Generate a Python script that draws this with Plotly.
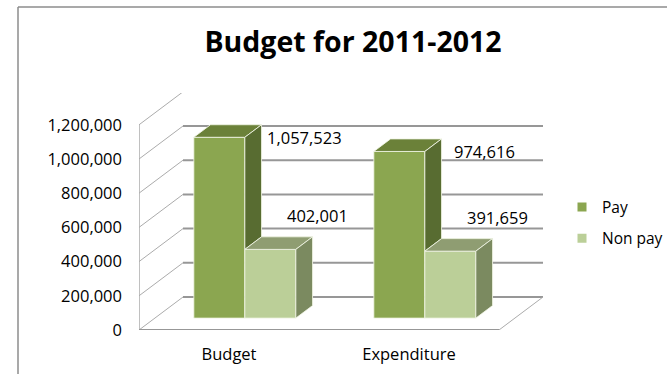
import plotly.graph_objects as go

# ---- data -------------------------------------------------------------
categories = ["Budget", "Expenditure"]
series_names = ["Pay", "Non pay"]
pay = [1057523, 974616]
non_pay = [402001, 391659]
y_ticks = [0, 200000, 400000, 600000, 800000, 1000000, 1200000]
y_tick_labels = ["0", "200,000", "400,000", "600,000", "800,000", "1,000,000", "1,200,000"]

# ---- geometry / style -------------------------------------------------
W, H = 667, 374
M_L, M_R, M_T, M_B = 139, 124, 93, 44
PLOT_W = W - M_L - M_R
PLOT_H = H - M_T - M_B
PX_PER_CAT = 180.0          # px per category slot on the front plane
PX_PER_VAL = 171e-6         # px per value unit
X_MAX = PLOT_W / PX_PER_CAT
Y_MAX = PLOT_H / PX_PER_VAL
DX = 44 / PX_PER_CAT        # depth of the box, horizontal component
DY = 33 / PX_PER_VAL        # depth of the box, vertical component
F0, F1 = 0.36, 0.74         # front/back depth fraction occupied by the columns
BW = 51 / PX_PER_CAT        # column width

FONT = "Open Sans"
colors = {
    "Pay": dict(front="#8BA650", top="#6B8139", side="#586C31"),
    "Non pay": dict(front="#BBCF98", top="#8F9D72", side="#7B8A60"),
}
EDGE = "rgba(240,245,228,0.85)"
GRID = "#979797"
WALL = "#ABABAB"

n_cat = len(categories)
sx, sy = F0 * DX, F0 * DY
ddx, ddy = (F1 - F0) * DX, (F1 - F0) * DY

fig = go.Figure()


def px_to_paper_x(px):
    return (px - M_L) / PLOT_W


def px_to_paper_y(py):
    return (H - M_B - py) / PLOT_H


# ---- box: back-wall gridlines, side wall, floor (behind the columns) ----
shapes = []
for t in y_ticks:
    shapes.append(dict(type="line", xref="x", yref="y", layer="below",
                       x0=DX, y0=t + DY, x1=n_cat + DX, y1=t + DY,
                       line=dict(color=GRID, width=2)))
    shapes.append(dict(type="line", xref="x", yref="y", layer="below",
                       x0=0, y0=t, x1=DX, y1=t + DY,
                       line=dict(color=WALL, width=1)))
shapes.append(dict(type="line", xref="x", yref="y", layer="below",
                   x0=0, y0=0, x1=0, y1=y_ticks[-1],
                   line=dict(color=WALL, width=1.5)))
shapes.append(dict(type="line", xref="x", yref="y", layer="below",
                   x0=0, y0=0, x1=n_cat, y1=0,
                   line=dict(color=GRID, width=2)))
shapes.append(dict(type="line", xref="x", yref="y", layer="below",
                   x0=n_cat, y0=0, x1=n_cat + DX, y1=DY,
                   line=dict(color=WALL, width=1)))

# chart-area border (top and left edges fall inside the page)
shapes.append(dict(type="line", xref="paper", yref="paper", layer="below",
                   x0=px_to_paper_x(18), y0=px_to_paper_y(7),
                   x1=px_to_paper_x(W), y1=px_to_paper_y(7),
                   line=dict(color="#8C8C8C", width=1.5)))
shapes.append(dict(type="line", xref="paper", yref="paper", layer="below",
                   x0=px_to_paper_x(18), y0=px_to_paper_y(7),
                   x1=px_to_paper_x(18), y1=px_to_paper_y(H),
                   line=dict(color="#8C8C8C", width=1.5)))

# ---- columns: front faces as bars --------------------------------------
series = [("Pay", pay, -BW), ("Non pay", non_pay, 0.0)]
for name, vals, off in series:
    fig.add_trace(go.Bar(
        x=[i + 0.5 + sx for i in range(n_cat)], y=vals, base=sy,
        width=BW, offset=off, name=name, showlegend=False,
        marker=dict(color=colors[name]["front"], line=dict(color=EDGE, width=1)),
        hoverinfo="skip",
    ))


def poly_trace(polys, fill, name):
    xs, ys = [], []
    for p in polys:
        for (a, b) in p + [p[0]]:
            xs.append(a)
            ys.append(b)
        xs.append(None)
        ys.append(None)
    return go.Scatter(x=xs, y=ys, mode="lines", fill="toself", fillcolor=fill,
                      line=dict(color=EDGE, width=1), showlegend=False,
                      hoverinfo="skip", name=name)


# top and side faces, drawn in depth order
for name, vals, off in series:
    tops, sides = [], []
    for i, v in enumerate(vals):
        x0 = i + 0.5 + sx + off
        x1 = x0 + BW
        t = sy + v
        tops.append([(x0, t), (x1, t), (x1 + ddx, t + ddy), (x0 + ddx, t + ddy)])
        # the Pay side face is hidden below the neighbouring Non pay column top
        b = sy + (non_pay[i] if name == "Pay" else 0)
        sides.append([(x1, b), (x1, t), (x1 + ddx, t + ddy), (x1 + ddx, b + ddy)])
    fig.add_trace(poly_trace(tops, colors[name]["top"], name))
    fig.add_trace(poly_trace(sides, colors[name]["side"], name))

# legend entries
for name in series_names:
    fig.add_trace(go.Scatter(x=[None], y=[None], mode="markers", name=name,
                             marker=dict(symbol="square", size=9,
                                         color=colors[name]["front"]),
                             legendgroup=name))

# ---- value labels -------------------------------------------------------
annotations = []
for i in range(n_cat):
    annotations.append(dict(
        x=i + 0.5 + sx + 60 / PX_PER_CAT, y=sy + pay[i], xref="x", yref="y",
        text=f"{pay[i]:,}", showarrow=False, xanchor="center", yanchor="middle",
        font=dict(family=FONT, size=16.5, color="#000000")))
    annotations.append(dict(
        x=i + 0.5 + sx + BW + 22 / PX_PER_CAT, y=sy + non_pay[i], xref="x", yref="y",
        text=f"{non_pay[i]:,}", showarrow=False, xanchor="center", yanchor="middle",
        yshift=34, font=dict(family=FONT, size=16.5, color="#000000")))

fig.update_layout(
    width=W, height=H,
    margin=dict(l=M_L, r=M_R, t=M_T, b=M_B, pad=0, autoexpand=False),
    paper_bgcolor="white", plot_bgcolor="rgba(0,0,0,0)",
    barmode="overlay",
    title=dict(text="<b>Budget for 2011-2012</b>", xref="container", yref="container",
               x=353 / W, xanchor="center", y=1 - 42 / H, yanchor="middle",
               font=dict(family=FONT, size=28.5, color="#000000")),
    xaxis=dict(range=[0, X_MAX], tickvals=[i + 0.5 for i in range(n_cat)],
               ticktext=categories, ticks="", showgrid=False, zeroline=False,
               showline=False, ticklabelstandoff=12, fixedrange=True, automargin=False,
               tickfont=dict(family=FONT, size=16.5, color="#000000")),
    yaxis=dict(range=[0, Y_MAX], tickvals=y_ticks, ticktext=y_tick_labels,
               ticks="", showgrid=False, zeroline=False, showline=False,
               ticklabelstandoff=16, fixedrange=True, automargin=False,
               tickfont=dict(family=FONT, size=16.5, color="#000000")),
    legend=dict(x=px_to_paper_x(562), xanchor="left", y=px_to_paper_y(223),
                yanchor="middle", tracegroupgap=8, bgcolor="rgba(0,0,0,0)",
                borderwidth=0, font=dict(family=FONT, size=15.5, color="#000000")),
    shapes=shapes,
    annotations=annotations,
    showlegend=True,
)

fig.write_html("out.html")
